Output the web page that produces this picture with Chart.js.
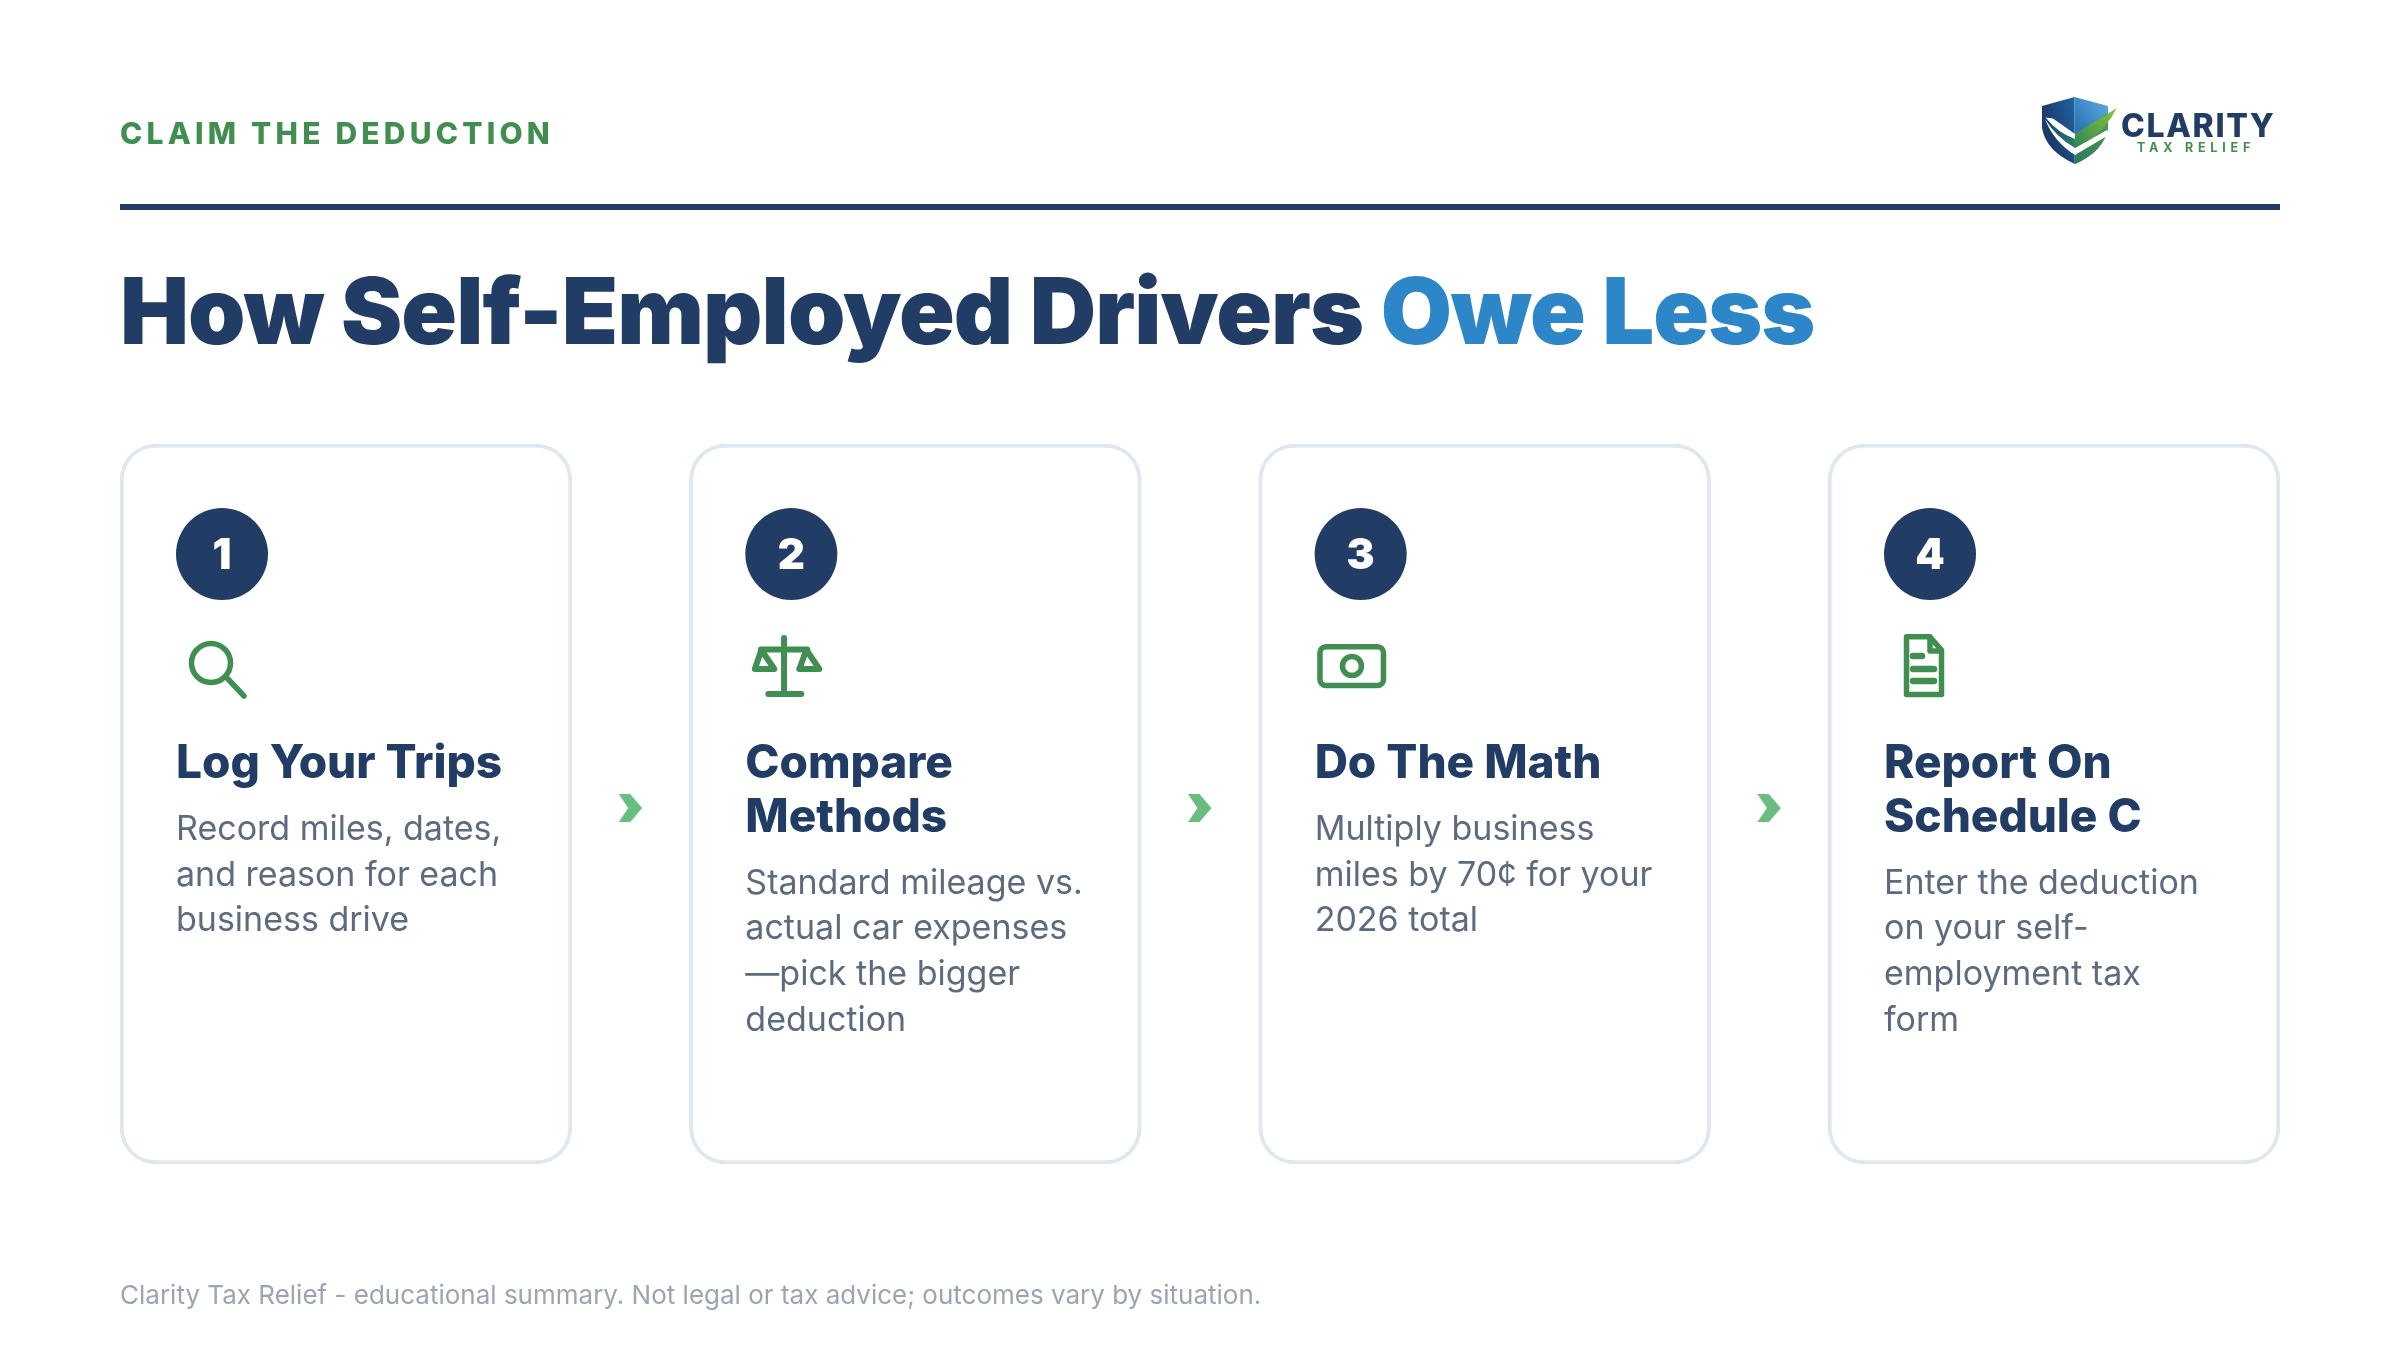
<!DOCTYPE html>
<html>
<head>
<meta charset="utf-8">
<title>How Self-Employed Drivers Owe Less</title>
<script src="https://cdn.jsdelivr.net/npm/chart.js@4"></script>
<style>
  html, body { margin: 0; padding: 0; background: #fff; }
  canvas { display: block; }
</style>
</head>
<body>
<canvas id="steps_chart" width="2400" height="1350"></canvas>
<script>
var kicker = "CLAIM THE DEDUCTION";
var titleDark = "How Self-Employed Drivers ";
var titleBlue = "Owe Less";
var footer = "Clarity Tax Relief - educational summary. Not legal or tax advice; outcomes vary by situation.";

var categories = ["Log Your Trips", "Compare Methods", "Do The Math", "Report On Schedule C"];
var stepNumbers = [1, 2, 3, 4];
var cardValues = [1, 1, 1, 1];
var arrowSteps = [0.5, 1.5, 2.5];
var iconNames = ["search", "scale", "money", "doc"];
var headingLines = [
  ["Log Your Trips"],
  ["Compare", "Methods"],
  ["Do The Math"],
  ["Report On", "Schedule C"]
];
var bodyLines = [
  ["Record miles, dates,", "and reason for each", "business drive"],
  ["Standard mileage vs.", "actual car expenses", "\u2014pick the bigger", "deduction"],
  ["Multiply business", "miles by 70\u00a2 for your", "2026 total"],
  ["Enter the deduction", "on your self-", "employment tax", "form"]
];

var NAVY = "#213d66";
var BLUE = "#2d86c8";
var GREEN = "#418f50";
var BODY = "#5c6b7f";
var FONT = "Inter, sans-serif";

function text(ctx, str, x, y, font, color, spacing) {
  ctx.font = font;
  ctx.fillStyle = color;
  ctx.letterSpacing = (spacing || 0) + "px";
  ctx.fillText(str, x, y);
  return ctx.measureText(str).width;
}

function poly(ctx, pts, fill) {
  ctx.fillStyle = fill;
  ctx.beginPath();
  ctx.moveTo(pts[0], pts[1]);
  for (var i = 2; i < pts.length; i += 2) ctx.lineTo(pts[i], pts[i + 1]);
  ctx.closePath();
  ctx.fill();
}

function gradient(ctx, x1, y1, x2, y2, c1, c2) {
  var g = ctx.createLinearGradient(x1, y1, x2, y2);
  g.addColorStop(0, c1);
  g.addColorStop(1, c2);
  return g;
}

function drawLogo(ctx) {
  ctx.save();
  ctx.beginPath();
  ctx.moveTo(2074.5, 97);
  ctx.lineTo(2108, 106);
  ctx.lineTo(2108, 128);
  ctx.quadraticCurveTo(2104, 151, 2075, 164);
  ctx.quadraticCurveTo(2046, 151, 2042, 128);
  ctx.lineTo(2042, 106);
  ctx.closePath();
  ctx.clip();
  // left half, top right, lower right
  poly(ctx, [2040, 95, 2074.5, 95, 2074.5, 166, 2040, 166], gradient(ctx, 2042, 110, 2074, 100, "#1b3a6b", "#1f62a0"));
  poly(ctx, [2074.5, 95, 2110, 95, 2110, 166, 2074.5, 166], gradient(ctx, 2075, 125, 2108, 100, "#2b74b6", "#5aaede"));
  poly(ctx, [2074.5, 134, 2110, 112, 2110, 166, 2074.5, 166], gradient(ctx, 2075, 165, 2105, 125, "#2a7a5c", "#4a9b4d"));
  // inner V turns teal towards the middle
  poly(ctx, [2046, 118, 2074.5, 136, 2074.5, 149, 2058, 138], gradient(ctx, 2050, 125, 2075, 145, "#1c4a7c", "#2b7f62"));
  ctx.restore();

  // white bands
  ctx.fillStyle = "#fff";
  ctx.beginPath();
  ctx.moveTo(2045.5, 117.5);
  ctx.lineTo(2053, 118.5);
  ctx.lineTo(2075, 134);
  ctx.lineTo(2075, 139);
  ctx.quadraticCurveTo(2058, 133, 2045.5, 117.5);
  ctx.closePath();
  ctx.fill();
  ctx.beginPath();
  ctx.moveTo(2045, 119);
  ctx.quadraticCurveTo(2054, 142, 2075, 155);
  ctx.lineTo(2107, 136);
  ctx.lineTo(2107, 130);
  ctx.lineTo(2075, 148);
  ctx.quadraticCurveTo(2056, 137, 2045, 119);
  ctx.closePath();
  ctx.fill();

  // check tail sticks out of the shield
  ctx.fillStyle = gradient(ctx, 2075, 145, 2117, 108, "#2f8a55", "#8fc23a");
  ctx.beginPath();
  ctx.moveTo(2075, 134);
  ctx.lineTo(2117, 108);
  ctx.quadraticCurveTo(2106, 128, 2092, 138);
  ctx.lineTo(2075, 148);
  ctx.closePath();
  ctx.fill();

  text(ctx, "CLARITY", 2121, 137, "800 32px " + FONT, NAVY, 1.7);
  text(ctx, "TAX RELIEF", 2137, 152, "700 12.5px " + FONT, GREEN, 4.8);
}

function strokeLine(ctx, x1, y1, x2, y2) {
  ctx.beginPath();
  ctx.moveTo(x1, y1);
  ctx.lineTo(x2, y2);
  ctx.stroke();
}

// icons are drawn relative to the card's left edge
function drawIcon(ctx, name, x) {
  ctx.save();
  ctx.strokeStyle = GREEN;
  ctx.fillStyle = GREEN;
  ctx.lineWidth = 5.5;
  ctx.lineCap = "round";
  ctx.lineJoin = "round";
  if (name == "search") {
    ctx.beginPath();
    ctx.arc(x + 91, 663, 19.5, 0, Math.PI * 2);
    ctx.stroke();
    strokeLine(ctx, x + 108, 679, x + 124, 696);
  } else if (name == "scale") {
    ctx.lineWidth = 6;
    strokeLine(ctx, x + 94.7, 638, x + 94.7, 694);
    strokeLine(ctx, x + 71.5, 649.5, x + 118, 649.5);
    strokeLine(ctx, x + 79, 694, x + 112, 694);
    ctx.beginPath();
    ctx.moveTo(x + 72, 650);
    ctx.lineTo(x + 65.5, 669);
    ctx.lineTo(x + 85, 669);
    ctx.closePath();
    ctx.stroke();
    ctx.beginPath();
    ctx.moveTo(x + 117, 650);
    ctx.lineTo(x + 110, 669);
    ctx.lineTo(x + 130, 669);
    ctx.closePath();
    ctx.stroke();
  } else if (name == "money") {
    ctx.beginPath();
    ctx.roundRect(x + 61.3, 646.7, 63.5, 38.8, 6);
    ctx.stroke();
    ctx.beginPath();
    ctx.arc(x + 93.3, 666, 9.5, 0, Math.PI * 2);
    ctx.stroke();
  } else if (name == "doc") {
    ctx.beginPath();
    ctx.moveTo(x + 78.5, 636.7);
    ctx.lineTo(x + 101.5, 636.7);
    ctx.lineTo(x + 113.5, 650);
    ctx.lineTo(x + 113.5, 694.5);
    ctx.lineTo(x + 78.5, 694.5);
    ctx.closePath();
    ctx.stroke();
    ctx.beginPath();
    ctx.moveTo(x + 102, 637);
    ctx.lineTo(x + 102, 651);
    ctx.lineTo(x + 113, 651);
    ctx.stroke();
    ctx.lineWidth = 6.5;
    strokeLine(ctx, x + 85, 656, x + 94, 656);
    strokeLine(ctx, x + 85, 669, x + 106, 669);
    strokeLine(ctx, x + 85, 681, x + 106, 681);
  }
  ctx.restore();
}

var pagePlugin = {
  id: "pageText",
  afterDraw: function(chart) {
    var ctx = chart.ctx;
    var xScale = chart.scales.x;
    ctx.save();
    ctx.textBaseline = "alphabetic";
    ctx.textAlign = "left";

    text(ctx, kicker, 120, 144, "800 30px " + FONT, GREEN, 4.2);
    ctx.fillStyle = NAVY;
    ctx.fillRect(120, 204, 2160, 6);
    var w = text(ctx, titleDark, 120, 344, "900 92px " + FONT, NAVY, -0.92);
    text(ctx, titleBlue, 120 + w, 344, "900 92px " + FONT, BLUE, -0.92);
    drawLogo(ctx);

    categories.forEach(function(name, i) {
      var left = xScale.getPixelForValue(i) - 226;
      var tx = left + 56;
      var y = 778;
      drawIcon(ctx, iconNames[i], left);
      headingLines[i].forEach(function(line) {
        text(ctx, line, tx, y, "800 46px " + FONT, NAVY, -0.05);
        y += 53.5;
      });
      y = y - 53.5 + 62;
      bodyLines[i].forEach(function(line) {
        text(ctx, line, tx, y, "400 34px " + FONT, BODY, 0);
        y += 45.7;
      });
    });

    // step numbers sit on the circle points
    var circles = chart.getDatasetMeta(1).data;
    ctx.textAlign = "center";
    stepNumbers.forEach(function(n, i) {
      text(ctx, String(n), circles[i].x, circles[i].y + 15, "900 42px " + FONT, "#fff", 0);
    });
    ctx.textAlign = "left";

    text(ctx, footer, 120, 1304, "400 26px " + FONT, "#9aa5b1", 0);
    ctx.restore();
  }
};

function chevronImage() {
  var c = document.createElement("canvas");
  c.width = 24;
  c.height = 28;
  var g = c.getContext("2d");
  g.fillStyle = "#69bd7f";
  g.beginPath();
  g.moveTo(0, 0);
  g.lineTo(11.5, 0);
  g.lineTo(23.5, 14);
  g.lineTo(11.5, 28);
  g.lineTo(0, 28);
  g.lineTo(9.5, 14);
  g.closePath();
  g.fill();
  return c;
}

function start() {
  var ctx = document.getElementById("steps_chart").getContext("2d");
  var circleShift = 0.2178;
  new Chart(ctx, {
    type: "bar",
    data: {
      labels: categories,
      datasets: [
        {
          label: "Cards",
          data: cardValues,
          backgroundColor: "#fff",
          borderColor: "#dfe8f1",
          borderWidth: 4,
          borderRadius: 36,
          borderSkipped: false,
          barThickness: 452,
          grouped: false,
          order: 3
        },
        {
          type: "line",
          label: "Steps",
          xAxisID: "xSteps",
          data: stepNumbers.map(function(n, i) { return { x: i - circleShift, y: 0.8472 }; }),
          showLine: false,
          pointRadius: 46,
          pointBackgroundColor: NAVY,
          pointBorderWidth: 0,
          order: 1
        },
        {
          type: "line",
          label: "Arrows",
          xAxisID: "xSteps",
          data: arrowSteps.map(function(s) { return { x: s, y: 0.4944 }; }),
          showLine: false,
          pointStyle: chevronImage(),
          clip: false,
          order: 2
        }
      ]
    },
    options: {
      responsive: false,
      animation: false,
      devicePixelRatio: 1,
      layout: { padding: { top: 444, bottom: 186, left: 61.33, right: 61.33 } },
      plugins: {
        legend: { display: false },
        title: { display: false },
        tooltip: { enabled: false }
      },
      scales: {
        x: { display: false },
        xSteps: { type: "linear", display: false, min: -0.5, max: 3.5, offset: false },
        y: { display: false, min: 0, max: 1 }
      }
    },
    plugins: [pagePlugin]
  });
}

window.onload = start;
</script>
</body>
</html>
